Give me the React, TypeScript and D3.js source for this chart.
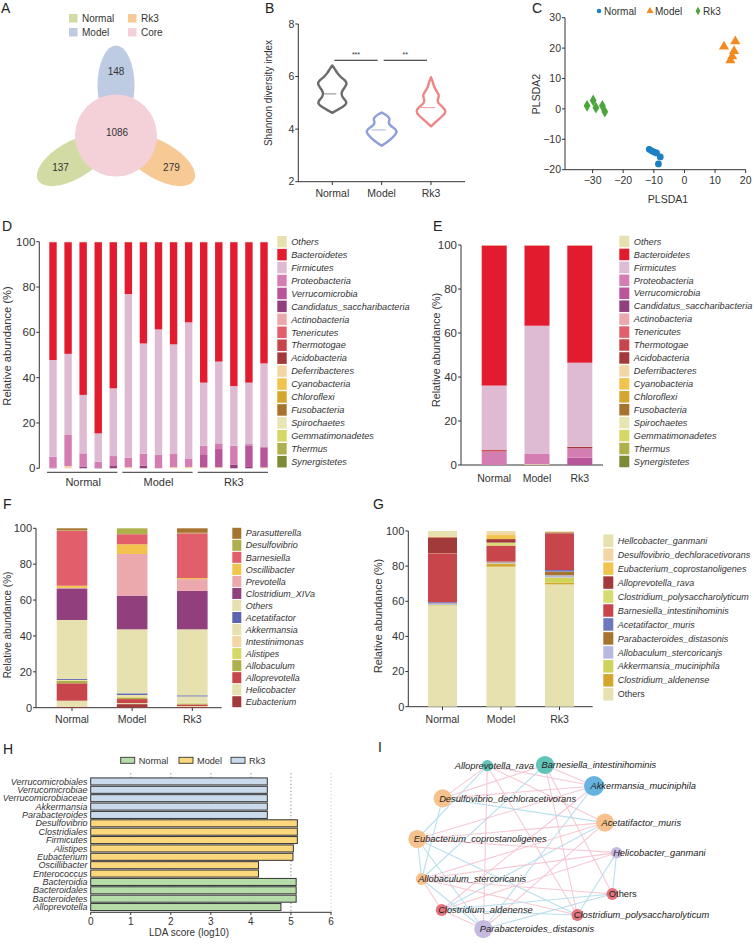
import React from "react";
import * as d3 from "d3";

const FONT = "'Liberation Sans', Arial, Helvetica, sans-serif";
const INK = "#333";

// ---------- A: Venn (flower) ----------
const vennNames = ["Model", "Rk3", "Normal"];
const vennUnique = [148, 279, 137];
const vennColors = ["#bdcce3", "#f7ca95", "#d1dba3"];
const coreCount = 1086;
const coreColor = "#f4d1d9";
const vennLegend = ["Normal", "Model", "Rk3", "Core"];
const vennLegendColors = ["#d1dba3", "#bdcce3", "#f7ca95", "#f4d1d9"];

// ---------- B: Shannon violins ----------
const groups = ["Normal", "Model", "Rk3"];
const shannonColors = ["#6b6b6b", "#8f9fd9", "#ef8585"];
const shannonMedians = [5.34, 3.97, 4.82];
const normalDensity: [number, number][] = [
  [4.62, 0], [4.72, 0.3], [4.85, 0.7], [4.98, 0.95], [5.1, 0.85], [5.25, 0.6],
  [5.4, 0.58], [5.55, 0.75], [5.72, 0.97], [5.85, 0.85], [6.0, 0.5], [6.15, 0.3], [6.3, 0.15], [6.42, 0],
];
const modelDensity: [number, number][] = [
  [3.37, 0], [3.5, 0.35], [3.7, 0.75], [3.88, 1.0], [4.0, 0.92], [4.13, 0.55],
  [4.25, 0.42], [4.38, 0.55], [4.48, 0.42], [4.57, 0.2], [4.63, 0],
];
const rk3Density: [number, number][] = [
  [4.1, 0], [4.3, 0.35], [4.52, 0.8], [4.68, 1.0], [4.85, 0.75], [5.0, 0.42],
  [5.13, 0.42], [5.28, 0.55], [5.43, 0.38], [5.6, 0.2], [5.8, 0.12], [5.97, 0],
];
const sigPairs = [["Normal", "Model", "***"], ["Model", "Rk3", "**"]];
const sigLevel = 6.62;

// ---------- C: PLS-DA ----------
const plsColors = ["#1b80c4", "#f28a1f", "#4ba53b"];
const normalPls = [[-11.5, -13.3], [-10.7, -13.8], [-9.9, -14.2], [-9.1, -14.5], [-7.9, -15.8], [-8.5, -18.1]];
const modelPls = [[12.9, 20.5], [16.6, 22.2], [16.2, 19.0], [15.6, 17.3], [15.0, 16.0]];
const rk3Pls = [[-31.8, 1.0], [-29.8, 2.8], [-28.9, 0.4], [-26.8, 1.0], [-26.0, -0.9]];

// ---------- D/E: phylum ----------
const phyla = [
  "Others", "Bacteroidetes", "Firmicutes", "Proteobacteria", "Verrucomicrobia",
  "Candidatus_saccharibacteria", "Actinobacteria", "Tenericutes", "Thermotogae",
  "Acidobacteria", "Deferribacteres", "Cyanobacteria", "Chloroflexi", "Fusobacteria",
  "Spirochaetes", "Gemmatimonadetes", "Thermus", "Synergistetes",
];
const phylaColors = [
  "#e6e1ae", "#e31b2f", "#dfbbd3", "#d37db3", "#b9559b", "#923f7e", "#eca9ad",
  "#e35e6b", "#c9454c", "#a23a3b", "#f4d6a5", "#f2c44e", "#d5a62d", "#a7742f",
  "#e8e5b5", "#d6d866", "#aeb04b", "#7d8b37",
];
const phylaStack = [
  "Deferribacteres", "Candidatus_saccharibacteria", "Verrucomicrobia", "Proteobacteria",
  "Thermotogae", "Acidobacteria", "Actinobacteria", "Tenericutes", "Cyanobacteria",
  "Chloroflexi", "Fusobacteria", "Spirochaetes", "Gemmatimonadetes", "Thermus",
  "Synergistetes", "Firmicutes", "Bacteroidetes", "Others",
];
const dSamples = ["N1", "N2", "N3", "N4", "N5", "M1", "M2", "M3", "M4", "M5", "R1", "R2", "R3", "R4", "R5"];
const dDeferri = [0, 1.0, 0, 0, 0, 0.5, 0, 0, 0.5, 0.6, 0.4, 0.5, 0, 0, 0.4];
const dCandid = [0, 0, 0.8, 0.4, 1.0, 0, 1.2, 0, 0, 0, 0, 0, 1.5, 0.6, 0];
const dVerruco = [0.4, 0, 0, 0, 0, 0, 0, 0, 0, 0, 5.8, 8.0, 0, 9.3, 8.9];
const dProteo = [4.7, 13.7, 5.8, 2.5, 4.4, 4.2, 5.3, 5.9, 5.8, 3.5, 3.7, 2.5, 8.4, 0.8, 0];
const dFirm = [42.7, 35.8, 25.8, 12.5, 29.9, 72.2, 48.6, 55.4, 48.4, 60.3, 27.9, 36.1, 26.4, 27.1, 37.0];
const dBact = [52.0, 49.3, 67.4, 84.4, 64.5, 22.9, 44.7, 38.5, 45.1, 35.4, 62.0, 52.7, 63.5, 62.0, 53.5];
const dOthers = [0.2, 0.2, 0.2, 0.2, 0.2, 0.2, 0.2, 0.2, 0.2, 0.2, 0.2, 0.2, 0.2, 0.2, 0.2];

const eDeferri = [0, 0.4, 0];
const eVerruco = [0, 0, 3.3];
const eProteo = [6.1, 4.6, 4.3];
const eThermo = [0.7, 0, 0];
const eAcido = [0, 0, 0.7];
const eFirm = [29.3, 58.3, 38.2];
const eBact = [63.7, 36.5, 53.3];
const eOthers = [0.2, 0.2, 0.2];

// ---------- F: genus ----------
const genera = [
  "Parasutterella", "Desulfovibrio", "Barnesiella", "Oscillibacter", "Prevotella",
  "Clostridium_XIVa", "Others", "Acetatifactor", "Akkermansia", "Intestinimonas",
  "Alistipes", "Allobaculum", "Alloprevotella", "Helicobacter", "Eubacterium",
];
const generaColors = [
  "#a7742f", "#aeb04b", "#e35e6b", "#f2c44e", "#eca9ad", "#923f7e", "#e6e1ae",
  "#5c64b2", "#e6e1ae", "#f4d6a5", "#d6d866", "#aeb04b", "#c9454c", "#e6e1ae", "#a23a3b",
];
const fParasut = [1.1, 0, 2.5];
const fDesulf = [0.3, 3.3, 0.3];
const fBarnes = [30.6, 5.6, 24.9];
const fOscill = [1.2, 5.4, 0.6];
const fPrevot = [0.3, 23.2, 6.6];
const fClostr = [17.6, 18.8, 21.4];
const fOthers = [32.9, 35.7, 36.8];
const fAcetat = [0.5, 0.9, 0.6];
const fAkker = [0.2, 0.6, 3.5];
const fIntest = [0.1, 0.4, 0.2];
const fAlist = [0.3, 0.5, 0.3];
const fAllobac = [1.3, 0.8, 0.5];
const fAllopre = [9.7, 2.2, 0.9];
const fHelico = [3.4, 0.6, 0.5];
const fEubac = [0.5, 2.0, 0.4];

// ---------- G: species ----------
const species = [
  "Hellcobacter_ganmani", "Desulfovibrio_dechloracetivorans", "Eubacterium_coprostanoligenes",
  "Alloprevotella_rava", "Clostridium_polysaccharolyticum", "Barnesiella_intestinihominis",
  "Acetatifactor_muris", "Parabacteroides_distasonis", "Allobaculum_stercoricanjs",
  "Akkermansia_muciniphila", "Clostridium_aldenense", "Others",
];
const speciesColors = [
  "#e6e1ae", "#f4d6a5", "#f2c44e", "#a23a3b", "#d8dc70", "#c9454c",
  "#6e78bd", "#a7742f", "#b7b9e0", "#cfd35a", "#d5a62d", "#e6e1ae",
];
const gHelico = [3.0, 0.6, 0.3];
const gDesulf = [0.2, 1.7, 0.2];
const gEubac = [0.4, 2.3, 0.3];
const gAllopre = [9.0, 2.0, 0.7];
const gCpoly = [0.1, 1.7, 0.2];
const gBarnes = [27.8, 9.1, 20.5];
const gAcetat = [0.6, 0.2, 0.9];
const gParab = [0.2, 0.3, 2.1];
const gAllobac = [0.7, 0.6, 1.2];
const gAkker = [0.2, 0.3, 3.0];
const gCald = [0.2, 1.5, 1.0];
const gOthers = [57.6, 79.7, 69.6];

// ---------- H: LEfSe ----------
const lefseNames = [
  "Verrucomicrobiales", "Verrucomicrobiae", "Verrucomicrobiaceae", "Akkermansia",
  "Parabacteroides", "Desulfovibrio", "Clostridiales", "Firmicutes", "Alistipes",
  "Eubacterium", "Oscillibacter", "Enterococcus", "Bacteroidia", "Bacteroidales",
  "Bacteroidetes", "Alloprevotella",
];
const lefseScores = [4.41, 4.41, 4.41, 4.41, 4.41, 5.16, 5.16, 5.16, 5.06, 5.05, 4.19, 4.19, 5.13, 5.13, 5.13, 4.75];
const lefseGroups = [
  "Rk3", "Rk3", "Rk3", "Rk3", "Rk3", "Model", "Model", "Model", "Model", "Model",
  "Model", "Model", "Normal", "Normal", "Normal", "Normal",
];
const lefseColors = ["#b6dcaa", "#fdd77b", "#c9daed"];

// ---------- I: network ----------
const netNodes = [
  "Alloprevotella_rava", "Barnesiella_intestinihominis", "Akkermansia_muciniphila",
  "Desulfovibrio_dechloracetivorans", "Acetatifactor_muris", "Eubacterium_coprostanoligenes",
  "Helicobacter_ganmani", "Allobaculum_stercoricanis", "Others", "Clostridium_aldenense",
  "Clostridium_polysaccharolyticum", "Parabacteroides_distasonis",
];
const netLayoutX = [352, 525, 672, 218, 705, 142, 740, 155, 727, 215, 622, 340];
const netLayoutY = [182, 180, 243, 280, 353, 402, 443, 522, 567, 615, 630, 672];
const netWeight = [1, 2.8, 3.3, 2.8, 2.8, 2.8, 1, 1.1, 1.1, 1.1, 1.1, 2.8];
const netModule = [0, 0, 1, 2, 2, 2, 3, 2, 4, 4, 4, 3];
const moduleColors = ["#62c3b8", "#66b3e2", "#f7c18d", "#c6b9df", "#e3737c"];
const netEdges: [number, number, number][] = [
  [0, 3, 1], [0, 5, -1], [0, 2, 1], [0, 11, 1], [0, 10, 1], [0, 4, 1],
  [1, 3, 1], [1, 7, -1], [1, 10, 1], [1, 8, 1], [1, 2, 1],
  [2, 5, 1], [2, 11, -1], [2, 9, 1], [2, 3, 1],
  [3, 4, -1], [3, 7, -1],
  [4, 5, 1], [4, 7, 1], [4, 11, 1], [4, 9, -1],
  [5, 7, -1], [5, 11, -1], [5, 10, -1], [5, 6, 1],
  [6, 7, 1], [6, 8, -1], [6, 10, -1], [6, 9, 1],
  [7, 8, 1], [7, 9, 1], [7, 11, -1], [7, 10, 1],
  [8, 9, -1], [8, 11, -1], [9, 10, -1], [9, 11, 1],
];

// ---------- helpers ----------
function rowsFrom(names: string[], table: Record<string, number[]>, keys: string[]) {
  return names.map((name, i) => {
    const r: any = { name };
    keys.forEach((k) => (r[k] = table[k] ? table[k][i] : 0));
    return r;
  });
}

function Stacks({ rows, keys, x, y, width, color }: any) {
  const series = d3.stack<any>().keys(keys)(rows);
  return (
    <g>
      {series.map((s) =>
        s.map((d, i) => {
          const h = y(d[0]) - y(d[1]);
          if (h <= 0) return null;
          return (
            <rect key={s.key + i} x={x(rows[i].name) - width / 2} y={y(d[1])} width={width} height={h} fill={color(s.key)} />
          );
        })
      )}
    </g>
  );
}

function YAxis({ y, x, ticks, size = 11, fmt = (t: number) => String(t) }: any) {
  const [r0, r1] = y.range();
  return (
    <g>
      <line x1={x} x2={x} y1={r0} y2={r1} stroke={INK} />
      {ticks.map((t: number) => (
        <g key={t}>
          <line x1={x - 3} x2={x} y1={y(t)} y2={y(t)} stroke={INK} />
          <text x={x - 4} y={y(t)} dy="0.35em" textAnchor="end" fontSize={size}>{fmt(t)}</text>
        </g>
      ))}
    </g>
  );
}

function Legend({ names, colors, x, y0, step, w, h, size = 9, upright = [] as string[] }: any) {
  return (
    <g>
      {names.map((n: string, i: number) => (
        <g key={n}>
          <rect x={x} y={y0 + i * step - h / 2} width={w} height={h} fill={colors[i]} />
          <text x={x + w + 4.5} y={y0 + i * step} dy="0.35em" fontSize={size} fontStyle={upright.includes(n) ? "normal" : "italic"}>{n}</text>
        </g>
      ))}
    </g>
  );
}

function YTitle({ x, y, text, size }: any) {
  return (
    <text transform={`translate(${x},${y}) rotate(-90)`} textAnchor="middle" dy="0.35em" fontSize={size}>{text}</text>
  );
}

function Letter({ x, y, t }: any) {
  return <text x={x} y={y} fontSize={14} fill="#222">{t}</text>;
}

// ---------- panels ----------
function PanelA() {
  const cx = 116, cy = 135.5;
  return (
    <g>
      <Letter x={1} y={13} t="A" />
      {vennLegend.map((n, i) => {
        const lx = i < 2 ? 69 : 128;
        const ly = i % 2 === 0 ? 14 : 28;
        return (
          <g key={n}>
            <rect x={lx} y={ly} width={8.5} height={8.5} fill={vennLegendColors[i]} />
            <text x={lx + 13} y={ly + 4.5} dy="0.35em" fontSize={10}>{n}</text>
          </g>
        );
      })}
      {vennNames.map((n, i) => {
        const a = ((-90 + 120 * i) * Math.PI) / 180;
        const deg = -90 + 120 * i;
        return (
          <ellipse key={n} cx={cx + 50 * Math.cos(a)} cy={cy + 50 * Math.sin(a)} rx={40} ry={18.5}
            transform={`rotate(${deg},${cx + 50 * Math.cos(a)},${cy + 50 * Math.sin(a)})`} fill={vennColors[i]} />
        );
      })}
      <circle cx={cx} cy={cy} r={41} fill={coreColor} />
      {vennNames.map((n, i) => {
        const a = ((-90 + 120 * i) * Math.PI) / 180;
        return (
          <text key={n} x={cx + 64 * Math.cos(a)} y={cy + 64 * Math.sin(a)} dy="0.35em" textAnchor="middle" fontSize={10}>{vennUnique[i]}</text>
        );
      })}
      <text x={cx + 1} y={cy - 3} dy="0.35em" textAnchor="middle" fontSize={10}>{coreCount}</text>
    </g>
  );
}

function PanelB() {
  const y = d3.scaleLinear().domain([2, 8]).range([181.7, 24]);
  const x = d3.scalePoint<string>().domain(groups).range([332.3, 431]);
  const w = d3.scaleLinear().domain([0, 1]).range([0, 15.5]);
  const profiles = [normalDensity, modelDensity, rk3Density];
  return (
    <g>
      <Letter x={265} y={13} t="B" />
      <YAxis y={y} x={298.3} ticks={[2, 4, 6, 8]} size={10.5} />
      <line x1={298.3} x2={465} y1={181.7} y2={181.7} stroke={INK} />
      {groups.map((g) => (
        <g key={g}>
          <line x1={x(g)} x2={x(g)} y1={181.7} y2={185} stroke={INK} />
          <text x={x(g)} y={197} textAnchor="middle" fontSize={10.5}>{g}</text>
        </g>
      ))}
      <YTitle x={268.3} y={93} text="Shannon diversity index" size={10} />
      {profiles.map((p, i) => {
        const cx = x(groups[i])!;
        const area = d3
          .area<[number, number]>()
          .y((d) => y(d[0]))
          .x0((d) => cx - w(d[1]))
          .x1((d) => cx + w(d[1]))
          .curve(d3.curveBasis);
        return (
          <g key={groups[i]}>
            <path d={area(p) || ""} fill="none" stroke={shannonColors[i]} strokeWidth={2.4} strokeLinejoin="round" />
            <line x1={cx - 10} x2={cx + 4} y1={y(shannonMedians[i])} y2={y(shannonMedians[i])} stroke={shannonColors[i]} strokeWidth={0.8} />
          </g>
        );
      })}
      {sigPairs.map(([a, b, s]) => (
        <g key={a + b}>
          <line x1={x(a)! + 2} x2={x(b)! - 4} y1={y(sigLevel)} y2={y(sigLevel)} stroke="#222" strokeWidth={1} />
          <text x={(x(a)! + x(b)!) / 2 - 1} y={y(sigLevel) - 3} textAnchor="middle" fontSize={7}>{s}</text>
        </g>
      ))}
    </g>
  );
}

function PanelC() {
  const x = d3.scaleLinear().domain([-39, 20]).range([565, 745.7]);
  const y = d3.scaleLinear().domain([-20, 30]).range([169.7, 17.7]);
  const fmt = d3.format("d");
  const sets = [normalPls, modelPls, rk3Pls];
  const syms = [
    d3.symbol().type(d3.symbolCircle).size(36)(),
    d3.symbol().type(d3.symbolTriangle).size(44)(),
    d3.symbol().type(d3.symbolDiamond).size(40)(),
  ];
  const legSyms = [
    d3.symbol().type(d3.symbolCircle).size(16)(),
    d3.symbol().type(d3.symbolTriangle).size(22)(),
    d3.symbol().type(d3.symbolDiamond).size(20)(),
  ];
  const legX = [599, 650, 698];
  return (
    <g>
      <Letter x={532} y={13} t="C" />
      {groups.map((g, i) => (
        <g key={g}>
          <path d={legSyms[i] || ""} transform={`translate(${legX[i]},11)`} fill={plsColors[i]} />
          <text x={legX[i] + 5} y={11} dy="0.35em" fontSize={10}>{g}</text>
        </g>
      ))}
      <YAxis y={y} x={565} ticks={[-20, -10, 0, 10, 20, 30]} size={10.5} fmt={fmt} />
      <line x1={565} x2={745.7} y1={169.7} y2={169.7} stroke={INK} />
      {[-30, -20, -10, 0, 10, 20].map((t) => (
        <g key={t}>
          <line x1={x(t)} x2={x(t)} y1={169.7} y2={173} stroke={INK} />
          <text x={x(t)} y={184} textAnchor="middle" fontSize={10.5}>{fmt(t)}</text>
        </g>
      ))}
      <text x={668} y={203} textAnchor="middle" fontSize={10.5}>PLSDA1</text>
      <YTitle x={536.7} y={94} text="PLSDA2" size={10.5} />
      {sets.map((s, i) =>
        s.map((p, j) => (
          <path key={i + "-" + j} d={syms[i] || ""} transform={`translate(${x(p[0])},${y(p[1])})`} fill={plsColors[i]} />
        ))
      )}
    </g>
  );
}

const phylumColor = (k: string) => phylaColors[phyla.indexOf(k)];

function PanelD() {
  const y = d3.scaleLinear().domain([0, 100]).range([468.3, 241.7]);
  const x = d3.scalePoint<string>().domain(dSamples).range([53, 264]);
  const rows = rowsFrom(
    dSamples,
    { Deferribacteres: dDeferri, Candidatus_saccharibacteria: dCandid, Verrucomicrobia: dVerruco,
      Proteobacteria: dProteo, Firmicutes: dFirm, Bacteroidetes: dBact, Others: dOthers },
    phylaStack
  );
  const brackets = [[0, 4], [5, 9], [10, 14]];
  return (
    <g>
      <Letter x={2} y={231} t="D" />
      <YAxis y={y} x={39.3} ticks={[0, 20, 40, 60, 80, 100]} size={11.5} />
      <YTitle x={7} y={346} text="Relative abundance (%)" size={11.2} />
      <Stacks rows={rows} keys={phylaStack} x={x} y={y} width={7.4} color={phylumColor} />
      {brackets.map(([a, b], i) => (
        <g key={i}>
          <line x1={x(dSamples[a])! - 6} x2={x(dSamples[b])! + 4} y1={472.3} y2={472.3} stroke={INK} />
          <text x={(x(dSamples[a])! + x(dSamples[b])!) / 2} y={486} textAnchor="middle" fontSize={11}>{groups[i]}</text>
        </g>
      ))}
      <Legend names={phyla} colors={phylaColors} x={277.3} y0={241.7} step={12.94} w={9.4} h={11.5} size={9.2} />
    </g>
  );
}

function PanelE() {
  const y = d3.scaleLinear().domain([0, 100]).range([465, 245]);
  const x = d3.scalePoint<string>().domain(groups).range([494.2, 579.8]);
  const rows = rowsFrom(
    groups,
    { Deferribacteres: eDeferri, Verrucomicrobia: eVerruco, Proteobacteria: eProteo, Thermotogae: eThermo,
      Acidobacteria: eAcido, Firmicutes: eFirm, Bacteroidetes: eBact, Others: eOthers },
    phylaStack
  );
  return (
    <g>
      <Letter x={433} y={231} t="E" />
      <YAxis y={y} x={461} ticks={[0, 20, 40, 60, 80, 100]} size={11.5} />
      <line x1={461} x2={603} y1={465} y2={465} stroke={INK} />
      <YTitle x={436.7} y={350} text="Relative abundance (%)" size={10.7} />
      <Stacks rows={rows} keys={phylaStack} x={x} y={y} width={25} color={phylumColor} />
      {groups.map((g) => (
        <text key={g} x={x(g)} y={482} textAnchor="middle" fontSize={10.5}>{g}</text>
      ))}
      <Legend names={phyla} colors={phylaColors} x={619.3} y0={241.5} step={12.94} w={10} h={11.5} size={9.2} />
    </g>
  );
}

function PanelF() {
  const y = d3.scaleLinear().domain([0, 100]).range([707.7, 528.3]);
  const x = d3.scalePoint<string>().domain(groups).range([72, 192.3]);
  const keys = genera.slice().reverse();
  const rows = rowsFrom(
    groups,
    { Parasutterella: fParasut, Desulfovibrio: fDesulf, Barnesiella: fBarnes, Oscillibacter: fOscill,
      Prevotella: fPrevot, Clostridium_XIVa: fClostr, Others: fOthers, Acetatifactor: fAcetat,
      Akkermansia: fAkker, Intestinimonas: fIntest, Alistipes: fAlist, Allobaculum: fAllobac,
      Alloprevotella: fAllopre, Helicobacter: fHelico, Eubacterium: fEubac },
    keys
  );
  const color = (k: string) => generaColors[genera.indexOf(k)];
  return (
    <g>
      <Letter x={3} y={509} t="F" />
      <YAxis y={y} x={36} ticks={[0, 20, 40, 60, 80, 100]} size={11} />
      <line x1={36} x2={221.7} y1={707.7} y2={707.7} stroke={INK} />
      <YTitle x={7} y={625} text="Relative abundance (%)" size={10} />
      <Stacks rows={rows} keys={keys} x={x} y={y} width={30.6} color={color} />
      {groups.map((g) => (
        <g key={g}>
          <line x1={x(g)} x2={x(g)} y1={707.7} y2={711} stroke={INK} />
          <text x={x(g)} y={723} textAnchor="middle" fontSize={10.5}>{g}</text>
        </g>
      ))}
      <Legend names={genera} colors={generaColors} x={232.3} y0={533.3} step={12.03} w={9} h={11} size={9} />
    </g>
  );
}

function PanelG() {
  const y = d3.scaleLinear().domain([0, 100]).range([706.7, 531]);
  const x = d3.scalePoint<string>().domain(groups).range([442.5, 559.5]);
  const keys = species.slice().reverse();
  const rows = rowsFrom(
    groups,
    { Hellcobacter_ganmani: gHelico, Desulfovibrio_dechloracetivorans: gDesulf,
      Eubacterium_coprostanoligenes: gEubac, Alloprevotella_rava: gAllopre,
      Clostridium_polysaccharolyticum: gCpoly, Barnesiella_intestinihominis: gBarnes,
      Acetatifactor_muris: gAcetat, Parabacteroides_distasonis: gParab,
      Allobaculum_stercoricanjs: gAllobac, Akkermansia_muciniphila: gAkker,
      Clostridium_aldenense: gCald, Others: gOthers },
    keys
  );
  const color = (k: string) => speciesColors[species.indexOf(k)];
  return (
    <g>
      <Letter x={373} y={509} t="G" />
      <YAxis y={y} x={408.3} ticks={[0, 20, 40, 60, 80, 100]} size={11} />
      <line x1={408.3} x2={592.7} y1={706.7} y2={706.7} stroke={INK} />
      <YTitle x={378.3} y={616} text="Relative abundance (%)" size={10.7} />
      <Stacks rows={rows} keys={keys} x={x} y={y} width={29} color={color} />
      {groups.map((g) => (
        <g key={g}>
          <line x1={x(g)} x2={x(g)} y1={706.7} y2={710} stroke={INK} />
          <text x={x(g)} y={723} textAnchor="middle" fontSize={10.5}>{g}</text>
        </g>
      ))}
      <Legend names={species} colors={speciesColors} x={603.3} y0={540.7} step={13.96} w={10} h={12.5} size={9} upright={["Others"]} />
    </g>
  );
}

function PanelH() {
  const x = d3.scaleLinear().domain([0, 6]).range([90.7, 331]);
  const y = d3.scaleBand<string>().domain(lefseNames).range([777.5, 911]).paddingInner(0.16).paddingOuter(0.05);
  const legX = [120.7, 179, 231];
  return (
    <g>
      <Letter x={3} y={754} t="H" />
      {groups.map((g, i) => (
        <g key={g}>
          <rect x={legX[i]} y={757.3} width={14} height={6} fill={lefseColors[i]} stroke="#333" strokeWidth={0.9} />
          <text x={legX[i] + 18} y={760.3} dy="0.35em" fontSize={9.2}>{g}</text>
        </g>
      ))}
      {[1, 2, 3, 4, 5, 6].map((t) => (
        <line key={t} x1={x(t)} x2={x(t)} y1={773.3} y2={912.3} stroke={t === 6 ? "#aaa" : "#444"} strokeWidth={0.8} strokeDasharray="1,2.5" />
      ))}
      {lefseNames.map((n, i) => (
        <g key={n}>
          <rect x={x(0)} y={y(n)} width={x(lefseScores[i]) - x(0)} height={y.bandwidth()}
            fill={lefseColors[groups.indexOf(lefseGroups[i])]} stroke="#333" strokeWidth={1} />
          <text x={87.5} y={y(n)! + y.bandwidth() / 2} dy="0.35em" textAnchor="end" fontSize={9} fontStyle="italic">{n}</text>
        </g>
      ))}
      <line x1={x(0)} x2={331.5} y1={912.3} y2={912.3} stroke={INK} />
      {[0, 1, 2, 3, 4, 5, 6].map((t) => (
        <g key={t}>
          <line x1={x(t)} x2={x(t)} y1={912.3} y2={915} stroke={INK} />
          <text x={x(t)} y={924.5} textAnchor="middle" fontSize={10}>{t}</text>
        </g>
      ))}
      <text x={189} y={935.5} textAnchor="middle" fontSize={10}>LDA score (log10)</text>
    </g>
  );
}

function PanelI() {
  const sx = d3.scaleLinear().domain([0, 1152]).range([370, 754]);
  const sy = d3.scaleLinear().domain([0, 720]).range([705, 945]);
  const r = d3.scaleLinear().domain([1, 3.3]).range([5.7, 10]);
  return (
    <g>
      <Letter x={378} y={752} t="I" />
      {netEdges.map(([a, b, s], i) => (
        <line key={i} x1={sx(netLayoutX[a])} y1={sy(netLayoutY[a])} x2={sx(netLayoutX[b])} y2={sy(netLayoutY[b])}
          stroke={s > 0 ? "#f5c3d0" : "#b4dceb"} strokeWidth={1.1} strokeOpacity={0.9} />
      ))}
      {netNodes.map((n, i) => (
        <circle key={n} cx={sx(netLayoutX[i])} cy={sy(netLayoutY[i])} r={r(netWeight[i])} fill={moduleColors[netModule[i]]} />
      ))}
      {netNodes.map((n, i) => {
        const first = i === 0;
        return (
          <text key={n} x={sx(netLayoutX[i]) + (first ? 7 : -3.5)} y={sy(netLayoutY[i])} dy="0.35em"
            textAnchor={first ? "middle" : "start"} fontSize={9.3} fontStyle={n === "Others" ? "normal" : "italic"} fill="#222">
            {n}
          </text>
        );
      })}
    </g>
  );
}

export default function App() {
  return (
    <svg width={754} height={945} viewBox="0 0 754 945" fontFamily={FONT} fill={INK}
      style={{ position: "absolute", left: 0, top: 0, background: "#fff" }}>
      <PanelA />
      <PanelB />
      <PanelC />
      <PanelD />
      <PanelE />
      <PanelF />
      <PanelG />
      <PanelH />
      <PanelI />
    </svg>
  );
}
